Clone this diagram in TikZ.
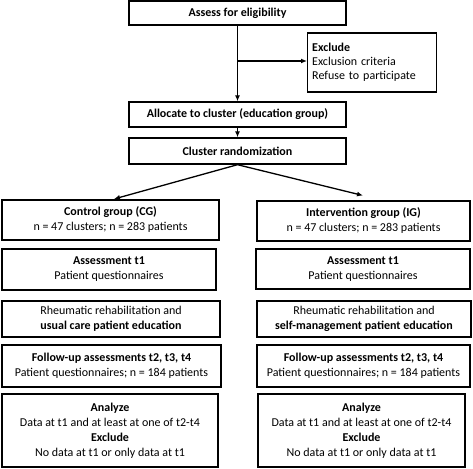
\documentclass[tikz,border=0pt]{standalone}
\usepackage{fontspec}
\setmainfont{Carlito}
\usetikzlibrary{arrows.meta}
\begin{document}
\begin{tikzpicture}[x=1pt,y=-1pt,
  box/.style={draw=black,line width=1.4pt,rectangle,inner sep=0pt,align=center,
    font=\fontsize{12}{15}\selectfont,text=black},
  arr/.style={line width=1.3pt,-{Latex[length=6pt,width=5pt]}}]
\useasboundingbox (0,0) rectangle (473,468);
\node[box,minimum width=217pt,minimum height=24pt] (assess) at (237.5,13) {\textbf{Assess for eligibility}};
\node[box,minimum width=129pt,minimum height=59pt,align=left,anchor=west,text width=120pt,inner xsep=4.5pt,font=\fontsize{12}{14}\selectfont] (excl) at (307,62.5) {\textbf{Exclude}\\Exclusion criteria\\Refuse to participate};
\node[box,minimum width=217pt,minimum height=25pt] (alloc) at (237.5,114.5) {\textbf{Allocate to cluster (education group)}};
\node[box,minimum width=217pt,minimum height=26pt] (rand) at (237.5,151) {\textbf{Cluster randomization}};
\node[box,minimum width=217pt,minimum height=40pt] (cg) at (110.5,220) {\textbf{Control group (CG)}\\n = 47 clusters; n = 283 patients};
\node[box,minimum width=213pt,minimum height=40pt] (ig) at (363.5,221) {\textbf{Intervention group (IG)}\\n = 47 clusters; n = 283 patients};
\node[box,minimum width=214pt,minimum height=41pt] (at1l) at (109,269.5) {\textbf{Assessment t1}\\Patient questionnaires};
\node[box,minimum width=214pt,minimum height=40pt] (at1r) at (363,269) {\textbf{Assessment t1}\\Patient questionnaires};
\node[box,minimum width=218pt,minimum height=36pt] (rhl) at (111,319) {Rheumatic rehabilitation and\\\textbf{usual care patient education}};
\node[box,minimum width=214pt,minimum height=36pt] (rhr) at (364,319) {Rheumatic rehabilitation and\\\textbf{self-management patient education}};
\node[box,minimum width=219pt,minimum height=42pt] (ful) at (111.5,366) {\textbf{Follow-up assessments t2, t3, t4}\\Patient questionnaires; n = 184 patients};
\node[box,minimum width=213pt,minimum height=42pt] (fur) at (363.5,366) {\textbf{Follow-up assessments t2, t3, t4}\\Patient questionnaires; n = 184 patients};
\node[box,minimum width=216pt,minimum height=73pt] (anl) at (110,430.5) {\textbf{Analyze}\\Data at t1 and at least at one of t2-t4\\\textbf{Exclude}\\No data at t1 or only data at t1};
\node[box,minimum width=207pt,minimum height=73pt] (anr) at (361.5,430.5) {\textbf{Analyze}\\Data at t1 and at least at one of t2-t4\\\textbf{Exclude}\\No data at t1 or only data at t1};
\coordinate (br) at (237.5,61);
\coordinate (lt) at (114,199);
\coordinate (rt) at (363,195.5);
\draw[arr] (assess.south) -- (alloc.north);
\draw[arr] (br) -- (br -| excl.west);
\draw[arr] (alloc.south) -- (rand.north);
\draw[arr] (rand.south) -- (lt);
\draw[arr] (rand.south) -- (rt);
\end{tikzpicture}
\end{document}
